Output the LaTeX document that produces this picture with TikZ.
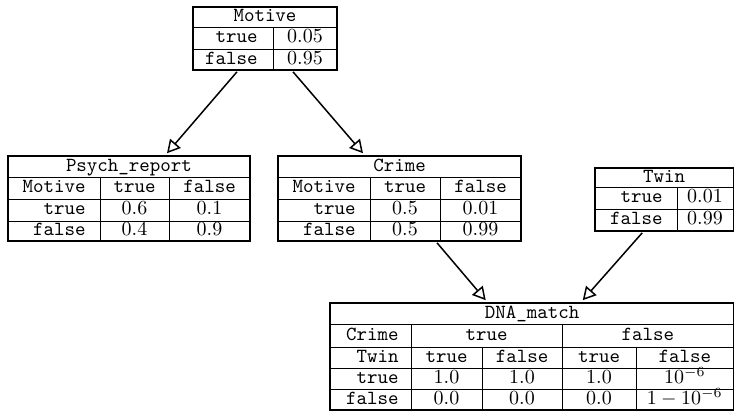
\documentclass[tikz,border=0pt]{standalone}
\usetikzlibrary{arrows.meta}
\begin{document}
\begin{tikzpicture}[x=0.5pt,y=-0.5pt,
  tbl/.style={draw,line width=0.8pt,inner sep=0pt,minimum width=#1},
  grid/.style={line width=0.4pt},
  cell/.style={inner sep=0pt,text height=7pt,text depth=2pt,
    font=\normalsize\ttfamily},
  lab/.style={cell,anchor=east},
  arr/.style={line width=0.75pt,-{Triangle[open,length=6.5pt,width=7pt]}}]
\useasboundingbox (0,0) rectangle (735,417);

% Motive
\node[tbl=72pt,minimum height=31.5pt] (motive) at (265,38.5) {};
\draw[grid] (193,27) -- (337,27) (193,49) -- (337,49) (273,27) -- (273,70);
\node[cell] (motive-h) at (265,17) {Motive};
\node[lab] (motive-t) at (258,38) {true};
\node[cell] (motive-tv) at (305,38) {$0.05$};
\node[lab] (motive-f) at (258,59.5) {false};
\node[cell] (motive-fv) at (305,59.5) {$0.95$};

% Psych_report
\node[tbl=121pt,minimum height=42.5pt] (psych) at (129,198.5) {};
\draw[grid] (8,177) -- (250,177) (8,199) -- (250,199) (8,221) -- (250,221)
  (100,177) -- (100,241) (169,177) -- (169,241);
\node[cell] (psych-h) at (129,166.5) {Psych\_report};
\node[lab] (psych-m) at (86,188) {Motive};
\node[cell] (psych-c1) at (134.5,188) {true};
\node[cell] (psych-c2) at (209.5,188) {false};
\node[lab] (psych-t) at (86,210) {true};
\node[cell] (psych-t1) at (134.5,210) {$0.6$};
\node[cell] (psych-t2) at (209.5,210) {$0.1$};
\node[lab] (psych-f) at (86,231) {false};
\node[cell] (psych-f1) at (134.5,231) {$0.4$};
\node[cell] (psych-f2) at (209.5,231) {$0.9$};

% Crime
\node[tbl=121.5pt,minimum height=42.5pt] (crime) at (399.5,198.5) {};
\draw[grid] (278,177) -- (521,177) (278,199) -- (521,199) (278,221) -- (521,221)
  (370,177) -- (370,241) (440,177) -- (440,241);
\node[cell] (crime-h) at (399.5,166.5) {Crime};
\node[lab] (crime-m) at (356,188) {Motive};
\node[cell] (crime-c1) at (405,188) {true};
\node[cell] (crime-c2) at (480.5,188) {false};
\node[lab] (crime-t) at (356,210) {true};
\node[cell] (crime-t1) at (405,210) {$0.5$};
\node[cell] (crime-t2) at (480.5,210) {$0.01$};
\node[lab] (crime-f) at (356,231) {false};
\node[cell] (crime-f1) at (405,231) {$0.5$};
\node[cell] (crime-f2) at (480.5,231) {$0.99$};

% Twin
\node[tbl=69.25pt,minimum height=31.5pt] (twin) at (664.25,199.5) {};
\draw[grid] (595,187) -- (733.5,187) (595,209) -- (733.5,209) (677,187) -- (677,231);
\node[cell] (twin-h) at (664,177.5) {Twin};
\node[lab] (twin-t) at (663,198) {true};
\node[cell] (twin-tv) at (705,198) {$0.01$};
\node[lab] (twin-f) at (663,220) {false};
\node[cell] (twin-fv) at (705,220) {$0.99$};

% DNA_match
\node[tbl=201.75pt,minimum height=53.5pt] (dna) at (531.75,356.5) {};
\draw[grid] (330,324) -- (733.5,324) (330,347) -- (733.5,347)
  (330,368) -- (733.5,368) (330,389) -- (733.5,389)
  (411,324) -- (411,410) (562,324) -- (562,410)
  (482,347) -- (482,410) (636,347) -- (636,410);
\node[cell] (dna-h) at (532,313.5) {DNA\_match};
\node[lab] (dna-cr) at (399,335.5) {Crime};
\node[cell] (dna-crt) at (486.5,335.5) {true};
\node[cell] (dna-crf) at (647.75,335.5) {false};
\node[lab] (dna-tw) at (399,357.5) {Twin};
\node[cell] (dna-tw1) at (446.5,357.5) {true};
\node[cell] (dna-tw2) at (522,357.5) {false};
\node[cell] (dna-tw3) at (599,357.5) {true};
\node[cell] (dna-tw4) at (684.75,357.5) {false};
\node[lab] (dna-t) at (399,378.5) {true};
\node[cell] (dna-t1) at (446.5,378.5) {$1.0$};
\node[cell] (dna-t2) at (522,378.5) {$1.0$};
\node[cell] (dna-t3) at (599,378.5) {$1.0$};
\node[cell] (dna-t4) at (684.75,378.5) {$10^{-6}$};
\node[lab] (dna-f) at (399,399.5) {false};
\node[cell] (dna-f1) at (446.5,399.5) {$0.0$};
\node[cell] (dna-f2) at (522,399.5) {$0.0$};
\node[cell] (dna-f3) at (599,399.5) {$0.0$};
\node[cell] (dna-f4) at (684.75,399.5) {$1-10^{-6}$};

% dependencies
\draw[arr] ([xshift=-14pt,yshift=-0.5pt]motive.south) -- ([xshift=19pt,yshift=1pt]psych.north);
\draw[arr] ([xshift=14pt,yshift=-0.5pt]motive.south) -- ([xshift=-18.25pt,yshift=1pt]crime.north);
\draw[arr] ([xshift=18.75pt,yshift=-0.5pt]crime.south) -- ([xshift=-23pt,yshift=1pt]dna.north);
\draw[arr] ([xshift=-11pt,yshift=-0.5pt]twin.south) -- ([xshift=25.5pt,yshift=1pt]dna.north);
\end{tikzpicture}
\end{document}
